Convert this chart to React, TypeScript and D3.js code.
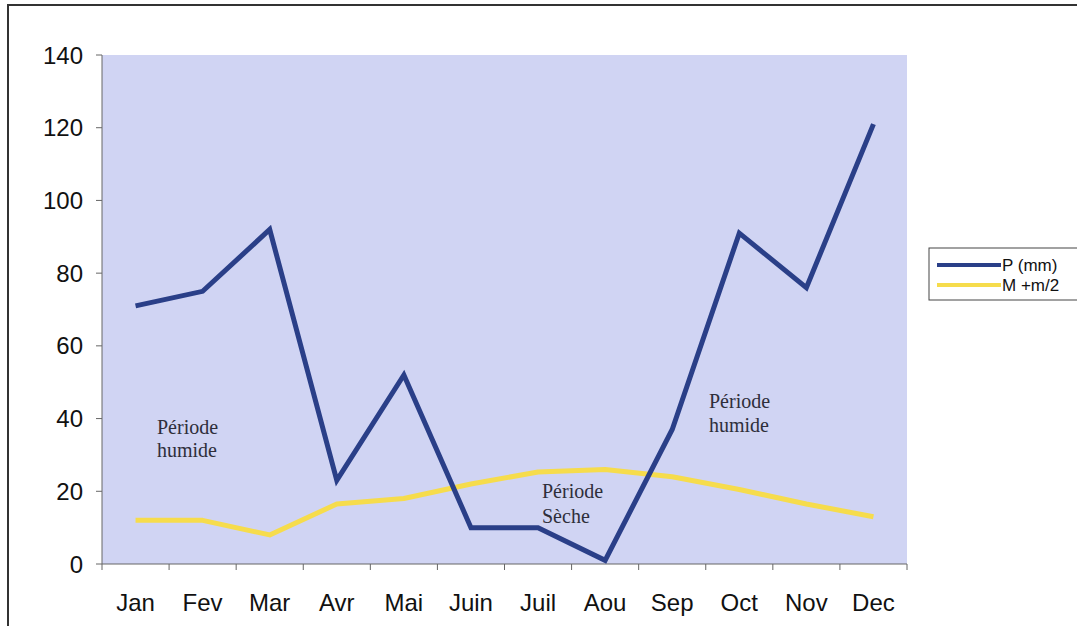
import React from "react";
import * as d3 from "d3";

const months = ["Jan", "Fev", "Mar", "Avr", "Mai", "Juin", "Juil", "Aou", "Sep", "Oct", "Nov", "Dec"];
const precip = [71, 75, 92, 23, 52, 10, 10, 1, 37, 91, 76, 121];
const meanTemp = [12, 12, 8, 16.5, 18, 22, 25.3, 26, 24, 20.5, 16.5, 13];
const yTicks = [0, 20, 40, 60, 80, 100, 120, 140];
const seriesNames = ["P (mm)", "M +m/2"];

const W = 1077, H = 626;
const plot = { left: 102, right: 907, top: 55, bottom: 564 };

export default function App() {
  const x = d3.scaleBand<string>().domain(months).range([plot.left, plot.right]).padding(0);
  const y = d3.scaleLinear().domain([0, 140]).range([plot.bottom, plot.top]);
  const cx = (m: string) => (x(m) as number) + x.bandwidth() / 2;
  const line = d3.line<number>().x((_, i) => cx(months[i])).y((d) => y(d));
  const boundaries = months.map((m) => x(m) as number).concat([plot.right]);
  const serif = "'Liberation Serif', 'Times New Roman', serif";
  const sans = "'Liberation Sans', Arial, sans-serif";
  const annColor = "#2e2e3a";
  const blue = "#2a3f88";
  const yellow = "#f6dc4c";
  const legendY = [265, 285];

  return (
    <svg width={W} height={H} style={{ position: "absolute", left: 0, top: 0, background: "#fff" }}>
      <rect x={8} y={5} width={W + 20} height={H + 20} fill="#fff" stroke="#333" strokeWidth={2} />
      <rect x={plot.left} y={plot.top} width={plot.right - plot.left} height={plot.bottom - plot.top} fill="#d0d4f3" />
      <line x1={plot.left} x2={plot.left} y1={plot.top} y2={plot.bottom} stroke="#666" strokeWidth={1} />
      <line x1={plot.left} x2={plot.right} y1={plot.bottom} y2={plot.bottom} stroke="#666" strokeWidth={1} />
      {yTicks.map((t) => (
        <g key={t}>
          <line x1={plot.left - 6} x2={plot.left} y1={y(t)} y2={y(t)} stroke="#666" />
          <text x={83} y={y(t)} dy="0.36em" textAnchor="end" fontFamily={sans} fontSize={24} fill="#111">{t}</text>
        </g>
      ))}
      {boundaries.map((b, i) => (
        <line key={i} x1={b} x2={b} y1={plot.bottom} y2={plot.bottom + 6} stroke="#666" />
      ))}
      {months.map((m) => (
        <text key={m} x={cx(m)} y={611} textAnchor="middle" fontFamily={sans} fontSize={24} fill="#111">{m}</text>
      ))}
      <path d={line(meanTemp) || ""} fill="none" stroke={yellow} strokeWidth={5} strokeLinejoin="round" />
      <path d={line(precip) || ""} fill="none" stroke={blue} strokeWidth={5} strokeLinejoin="miter" />
      <g fontFamily={serif} fontSize={20} fill={annColor}>
        <text x={157} y={434}>Période</text>
        <text x={157} y={457}>humide</text>
        <text x={709} y={408}>Période</text>
        <text x={709} y={432}>humide</text>
        <text x={542} y={498}>Période</text>
        <text x={542} y={523}>Sèche</text>
      </g>
      <rect x={929} y={248} width={160} height={52} fill="#fff" stroke="#444" strokeWidth={1} />
      {seriesNames.map((s, i) => (
        <g key={s}>
          <line x1={937} x2={1001} y1={legendY[i]} y2={legendY[i]} stroke={i === 0 ? blue : yellow} strokeWidth={4} />
          <text x={1002} y={legendY[i]} dy="0.36em" fontFamily={sans} fontSize={17} fill="#111">{s}</text>
        </g>
      ))}
    </svg>
  );
}
